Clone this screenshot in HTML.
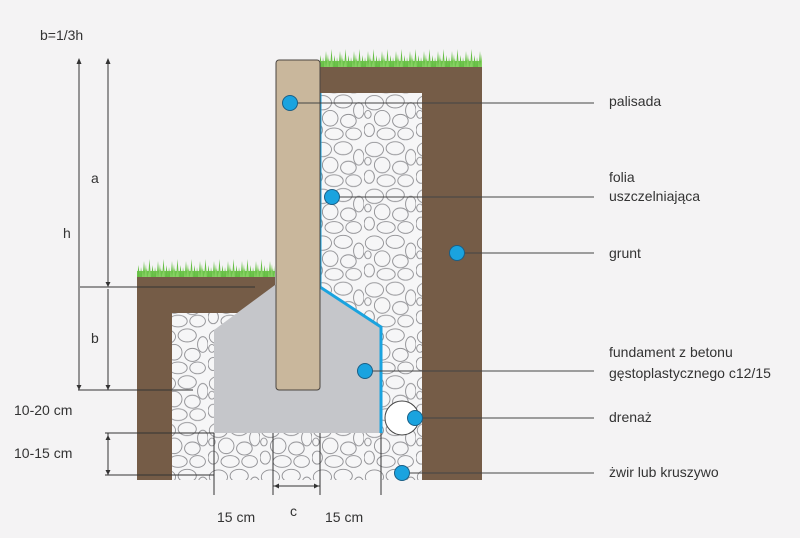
<!DOCTYPE html>
<html><head><meta charset="utf-8"><style>
html,body{margin:0;padding:0;background:#f4f3f4;}
svg{display:block;}
text{font-family:"Liberation Sans","DejaVu Sans",sans-serif;fill:#333;}
</style></head><body>
<svg width="800" height="538" viewBox="0 0 800 538" xmlns="http://www.w3.org/2000/svg">
<defs>
<pattern id="grav" width="40" height="36" patternUnits="userSpaceOnUse" patternTransform="scale(1.3)">
<rect width="40" height="36" fill="#f6f6f7"/>
<g fill="none" stroke="#8f8f93" stroke-width="0.7">
<ellipse cx="8" cy="7" rx="7" ry="5.5"/>
<ellipse cx="24" cy="6" rx="7" ry="5"/>
<ellipse cx="36" cy="13" rx="4" ry="6"/>
<ellipse cx="14" cy="19" rx="6" ry="6"/>
<ellipse cx="28" cy="21" rx="6" ry="5"/>
<ellipse cx="4" cy="28" rx="4" ry="5"/>
<ellipse cx="17" cy="31" rx="7" ry="4.5"/>
<ellipse cx="32" cy="31" rx="6" ry="4.5"/>
<ellipse cx="3" cy="16" rx="2.5" ry="3"/>
</g>
</pattern>
<pattern id="grassA" x="0" y="48" width="14" height="20" patternUnits="userSpaceOnUse">
<rect y="13" width="14" height="7" fill="#74c652"/>
<path d="M0 20 L1 9 L2.5 20 L4 3 L5.5 20 L7 10 L8 20 L9.5 1 L11 20 L12.5 7 L14 20Z" fill="#66bf45"/>
<path d="M2 20 L3 12 L4 20 L6 6 L7 20 L10 11 L11 20Z" fill="#86d062"/>
</pattern>
<pattern id="grassB" x="0" y="258" width="14" height="20" patternUnits="userSpaceOnUse">
<rect y="13" width="14" height="7" fill="#74c652"/>
<path d="M0 20 L1 9 L2.5 20 L4 3 L5.5 20 L7 10 L8 20 L9.5 1 L11 20 L12.5 7 L14 20Z" fill="#66bf45"/>
<path d="M2 20 L3 12 L4 20 L6 6 L7 20 L10 11 L11 20Z" fill="#86d062"/>
</pattern>
</defs>

<rect x="320" y="48" width="162" height="20" fill="url(#grassA)"/>
<rect x="137" y="258" width="138" height="20" fill="url(#grassB)"/>

<rect x="320" y="67" width="162" height="413" fill="#755c47"/>
<rect x="320" y="93" width="102" height="387" fill="url(#grav)"/>
<rect x="137" y="277" width="138" height="203" fill="#755c47"/>
<rect x="172" y="313" width="103" height="167" fill="url(#grav)"/>
<rect x="275" y="313" width="45" height="167" fill="url(#grav)"/>

<polygon points="275,285 322,288 381,327 381,433 214,433 214,330" fill="#c5c6ca"/>
<polyline points="320,93 320,287 381,327 381,433" fill="none" stroke="#1aa3df" stroke-width="3"/>

<rect x="276" y="60" width="44" height="330" rx="3" fill="#c9b79c" stroke="#4a4540" stroke-width="1"/>

<circle cx="402" cy="418" r="17" fill="#fff" stroke="#444" stroke-width="1"/>

<g stroke="#444" stroke-width="1">
<line x1="290" y1="103" x2="594" y2="103"/>
<line x1="332" y1="197" x2="594" y2="197"/>
<line x1="457" y1="253" x2="594" y2="253"/>
<line x1="365" y1="371" x2="594" y2="371"/>
<line x1="415" y1="418" x2="594" y2="418"/>
<line x1="402" y1="473" x2="594" y2="473"/>
</g>
<g fill="#1aa3df" stroke="#1a5f86" stroke-width="1">
<circle cx="290" cy="103" r="7.5"/>
<circle cx="332" cy="197" r="7.5"/>
<circle cx="457" cy="253" r="7.5"/>
<circle cx="365" cy="371" r="7.5"/>
<circle cx="415" cy="418" r="7.5"/>
<circle cx="402" cy="473" r="7.5"/>
</g>

<g stroke="#333" stroke-width="1" fill="none">
<line x1="79" y1="60" x2="79" y2="390"/>
<line x1="108" y1="60" x2="108" y2="285"/>
<line x1="108" y1="289" x2="108" y2="390"/>
<line x1="80" y1="287" x2="255" y2="287"/>
<line x1="78" y1="390" x2="193" y2="390"/>
<line x1="105" y1="433" x2="214" y2="433"/>
<line x1="105" y1="475" x2="214" y2="475"/>
<line x1="108" y1="433" x2="108" y2="475"/>
<line x1="214" y1="433" x2="214" y2="495"/>
<line x1="273" y1="433" x2="273" y2="495"/>
<line x1="320" y1="433" x2="320" y2="495"/>
<line x1="381" y1="433" x2="381" y2="495"/>
<line x1="273" y1="486" x2="320" y2="486"/>
</g>
<g fill="#333">
<path d="M79 58 l-2.5 6 h5z"/>
<path d="M108 58 l-2.5 6 h5z"/>
<path d="M108 287 l-2.5 -5 h5z"/>
<path d="M108 390 l-2.5 -5 h5z"/>
<path d="M79 390 l-2.5 -5 h5z"/>
<path d="M108 435 l-2.5 5 h5z"/>
<path d="M108 475 l-2.5 -5 h5z"/>
<path d="M274 486 l5 -2.5 v5z"/>
<path d="M319 486 l-5 -2.5 v5z"/>
</g>

<g font-size="14">
<text x="40" y="40">b=1/3h</text>
<text x="91" y="183">a</text>
<text x="63" y="238">h</text>
<text x="91" y="343">b</text>
<text x="14" y="415">10-20 cm</text>
<text x="14" y="458">10-15 cm</text>
<text x="217" y="522">15 cm</text>
<text x="290" y="516">c</text>
<text x="325" y="522">15 cm</text>
</g>
<g font-size="14">
<text x="609" y="106">palisada</text>
<text x="609" y="182">folia</text>
<text x="609" y="201">uszczelniająca</text>
<text x="609" y="258">grunt</text>
<text x="609" y="357">fundament z betonu</text>
<text x="609" y="378">gęstoplastycznego c12/15</text>
<text x="609" y="422">drenaż</text>
<text x="609" y="477">żwir lub kruszywo</text>
</g>
</svg>
</body></html>
